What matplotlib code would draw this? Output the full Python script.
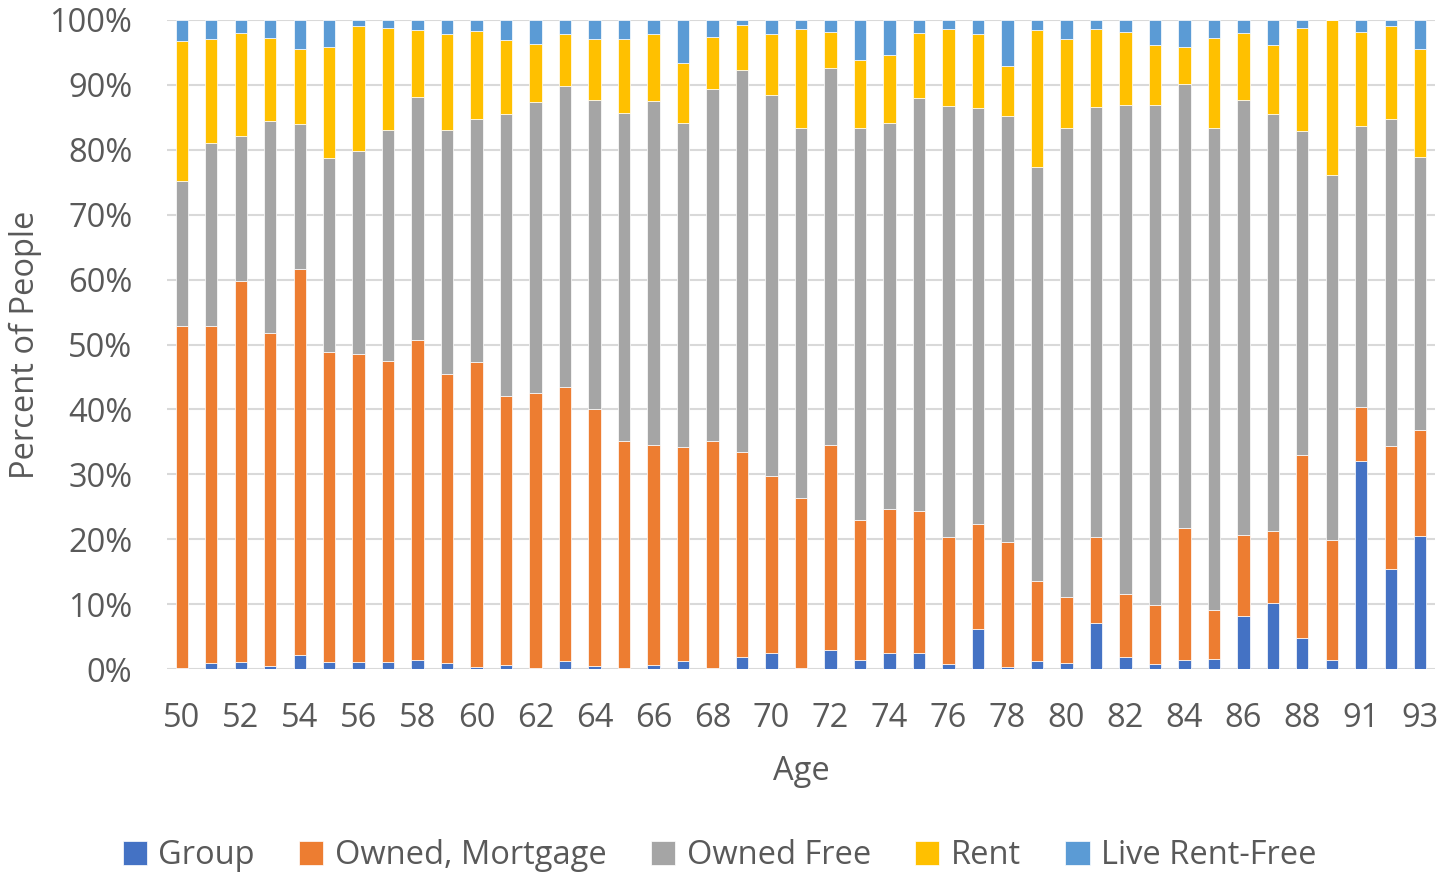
import numpy as np
from matplotlib import pyplot as plt

plt.rcParams['font.family'] = ['Open Sans', 'DejaVu Sans']

ages = ['50', '51', '52', '53', '54', '55', '56', '57', '58', '59',
        '60', '61', '62', '63', '64', '65', '66', '67', '68', '69',
        '70', '71', '72', '73', '74', '75', '76', '77', '78', '79',
        '80', '81', '82', '83', '84', '85', '86', '87', '88', '89',
        '91', '92', '93']

# percent of people in each living arrangement
group = [0.2, 0.9, 1.1, 0.5, 2.2, 1.1, 1.1, 1.1, 1.4, 0.9,
         0.35, 0.55, 0.1, 1.2, 0.4, 0.15, 0.55, 1.2, 0.1, 1.9,
         2.4, 0.2, 3.0, 1.4, 2.5, 2.5, 0.8, 6.1, 0.35, 1.3,
         0.9, 7.1, 1.9, 0.8, 1.4, 1.5, 8.2, 10.2, 4.8, 1.4,
         32.0, 15.4, 20.5]
mortgage = [52.6, 51.9, 58.7, 51.2, 59.5, 47.8, 47.5, 46.4, 49.3, 44.5,
            47.0, 41.5, 42.4, 42.3, 39.6, 35.0, 34.0, 33.0, 35.1, 31.5,
            27.4, 26.2, 31.5, 21.5, 22.2, 21.8, 19.6, 16.2, 19.2, 12.3,
            10.2, 13.2, 9.7, 9.0, 20.4, 7.6, 12.4, 11.0, 28.1, 18.5,
            8.3, 19.0, 16.4]
owned_free = [22.4, 28.2, 22.4, 32.8, 22.3, 29.9, 31.2, 35.6, 37.5, 37.7,
              37.4, 43.5, 44.8, 46.4, 47.6, 50.5, 53.0, 49.9, 54.1, 58.9,
              58.6, 57.0, 58.1, 60.5, 59.5, 63.7, 66.3, 64.1, 65.6, 63.8,
              72.2, 66.3, 75.3, 77.1, 68.4, 74.3, 67.0, 64.3, 50.0, 56.2,
              43.3, 50.4, 42.0]
rent = [21.6, 16.0, 15.8, 12.7, 11.6, 17.0, 19.3, 15.6, 10.2, 14.8,
        13.6, 11.4, 9.0, 8.0, 9.5, 11.4, 10.3, 9.3, 8.1, 7.0,
        9.5, 15.2, 5.6, 10.4, 10.4, 10.0, 11.9, 11.4, 7.8, 21.0,
        13.8, 12.0, 11.3, 9.2, 5.6, 13.9, 10.4, 10.6, 15.9, 23.9,
        14.6, 14.3, 16.6]
rent_free = [3.2, 3.0, 2.0, 2.8, 4.4, 4.2, 0.9, 1.3, 1.6, 2.1,
             1.7, 3.0, 3.7, 2.1, 2.9, 3.0, 2.1, 6.6, 2.6, 0.7,
             2.1, 1.4, 1.8, 6.2, 5.4, 2.0, 1.4, 2.2, 7.1, 1.6,
             2.9, 1.4, 1.8, 3.9, 4.2, 2.7, 2.0, 3.9, 1.2, 0.0,
             1.8, 0.9, 4.5]

series = [group, mortgage, owned_free, rent, rent_free]
names = ['Group', 'Owned, Mortgage', 'Owned Free', 'Rent', 'Live Rent-Free']
colors = ['#4472C4', '#ED7D31', '#A5A5A5', '#FFC000', '#5B9BD5']

grey = '#595959'
fs = 23.5

fig = plt.figure(figsize=(14.39, 8.75), dpi=100)
ax = fig.add_axes([167 / 1439, 1 - 669 / 875, (1435 - 167) / 1439, (669 - 20) / 875])

x = np.arange(len(ages))
bottom = np.zeros(len(ages))
for vals, name, c in zip(series, names, colors):
    vals = np.array(vals)
    ax.bar(x, vals, width=0.42, bottom=bottom, color=c, label=name,
           edgecolor='white', linewidth=0.5, zorder=3)
    bottom += vals

ax.set_xlim(-0.5, len(ages) - 0.5)
ax.set_ylim(0, 100)
ax.set_yticks(range(0, 101, 10))
ax.set_yticklabels([f'{v}%' for v in range(0, 101, 10)])
ax.set_xticks(x[::2])
ax.set_xticklabels(ages[::2])
ax.tick_params(axis='both', length=0, labelsize=fs, labelcolor=grey)
ax.tick_params(axis='x', pad=24)
ax.tick_params(axis='y', pad=25)
ax.yaxis.grid(True, color='#D9D9D9', linewidth=1.5, zorder=0)
ax.set_axisbelow(True)
for s in ax.spines.values():
    s.set_visible(False)

ax.set_xlabel('Age', fontsize=fs, color=grey, labelpad=14)
ax.set_ylabel('Percent of People', fontsize=fs, color=grey, labelpad=5)

fig.legend(loc='center', bbox_to_anchor=(0.5, 1 - 856 / 875), ncol=5,
           frameon=False, fontsize=fs, labelcolor=grey, handlelength=0.75,
           handleheight=0.75, handletextpad=0.35, columnspacing=1.35)

plt.savefig('out.png', dpi=100)
